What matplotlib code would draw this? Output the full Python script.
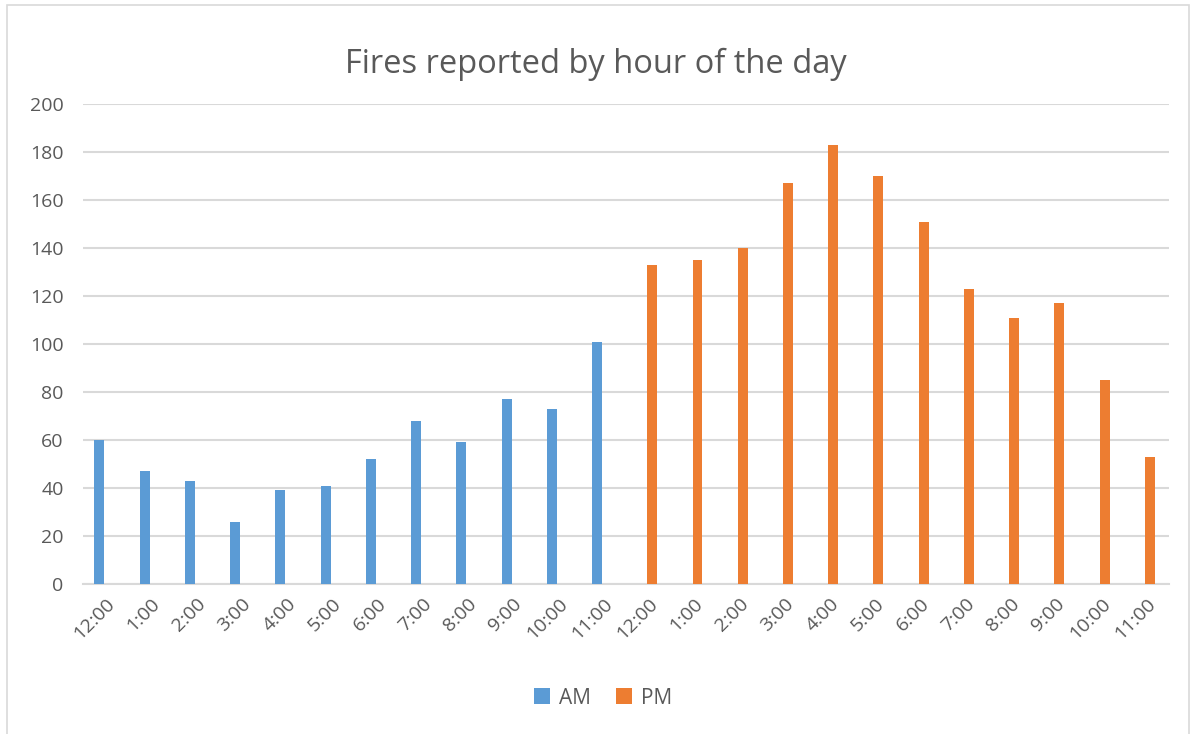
import matplotlib.pyplot as plt
import numpy as np
from matplotlib.patches import Rectangle

plt.rcParams['font.family'] = ['Open Sans', 'DejaVu Sans']

hours = ["12:00", "1:00", "2:00", "3:00", "4:00", "5:00",
         "6:00", "7:00", "8:00", "9:00", "10:00", "11:00"]
labels = hours + hours
am_fires = [60, 47, 43, 26, 39, 41, 52, 68, 59, 77, 73, 101] + [0] * 12
pm_fires = [0] * 12 + [133, 135, 140, 167, 183, 170, 151, 123, 111, 117, 85, 53]

blue = "#5B9BD5"
orange = "#ED7D31"
text_col = "#595959"

fig = plt.figure(figsize=(11.91, 7.34), dpi=100)
ax = fig.add_axes([0.0697, 0.2044, 0.9118, 0.6539])

x = np.arange(len(labels))
w = 0.22
am_vals = [v if v else np.nan for v in am_fires]
pm_vals = [v if v else np.nan for v in pm_fires]
ax.bar(x - w / 2 - 0.03, am_vals, width=w, color=blue, label="AM", zorder=3)
ax.bar(x + w / 2 - 0.03, pm_vals, width=w, color=orange, label="PM", zorder=3)

ax.set_xlim(-0.5, len(labels) - 0.5)
ax.set_ylim(0, 200)
ax.set_yticks(range(0, 201, 20))
ax.set_xticks(x)
ax.set_xticklabels(labels, rotation=45, ha="right", rotation_mode="anchor")
ax.tick_params(axis="both", length=0, labelsize=14, colors=text_col)
ax.tick_params(axis="y", pad=14)
ax.tick_params(axis="x", pad=8)
ax.grid(axis="y", color="#D9D9D9", linewidth=1.5, zorder=0)
for s in ["top", "right", "left"]:
    ax.spines[s].set_visible(False)
ax.spines["bottom"].set_color("#D9D9D9")
ax.spines["bottom"].set_linewidth(1.5)

fig.suptitle("Fires reported by hour of the day", y=0.935, fontsize=23.5, color=text_col)

leg = fig.legend(loc="center", bbox_to_anchor=(0.506, 0.049), ncol=2, frameon=False,
                 fontsize=15, handlelength=0.8, handleheight=0.8, handletextpad=0.4,
                 columnspacing=1.2)
for t in leg.get_texts():
    t.set_color(text_col)

fig.patches.append(Rectangle((0.006, -0.01), 0.992, 1.003, transform=fig.transFigure,
                             fill=False, edgecolor="#D9D9D9", linewidth=1.2))

fig.savefig("out.png", dpi=100)
